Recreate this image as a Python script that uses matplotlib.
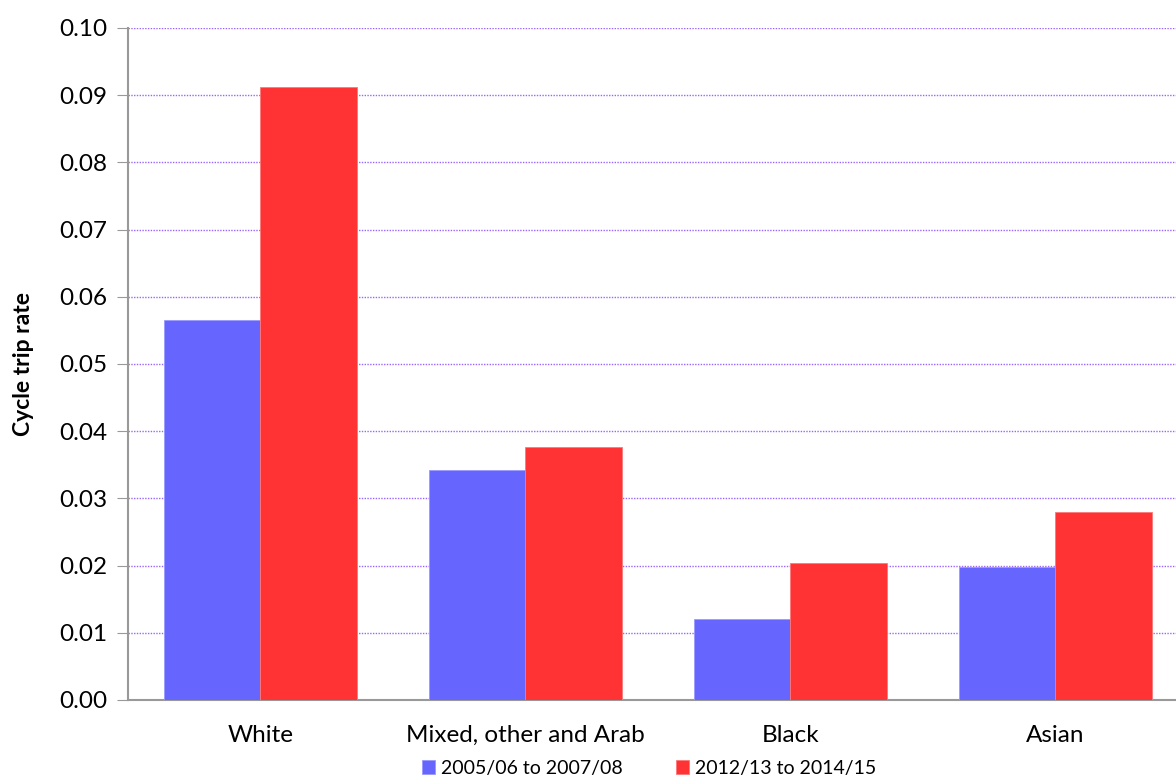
import numpy as np
import matplotlib.pyplot as plt

# values
groups = ['White', 'Mixed, other and Arab', 'Black', 'Asian']
period_a = [0.0565, 0.0342, 0.0121, 0.0198]
period_b = [0.0912, 0.0376, 0.0204, 0.0280]
series_names = ['2005/06 to 2007/08', '2012/13 to 2014/15']
yticks = [0.00, 0.01, 0.02, 0.03, 0.04, 0.05, 0.06, 0.07, 0.08, 0.09, 0.10]

plt.rcParams['font.family'] = ['Lato', 'DejaVu Sans']

fig = plt.figure(figsize=(11.76, 7.79), dpi=100)
ax = fig.add_axes([128 / 1176, 1 - 700 / 779, (1176 - 128) / 1176, 672 / 779])

x = np.arange(len(groups))
w = 0.365
ax.bar(x - w / 2, period_a, w, color='#6666ff', edgecolor='#9999ff', linewidth=0.6,
       label=series_names[0], zorder=3)
ax.bar(x + w / 2, period_b, w, color='#ff3333', edgecolor='#ff7777', linewidth=0.6,
       label=series_names[1], zorder=3)

ax.set_xlim(-0.5, 3.455)
ax.set_ylim(0, 0.10)
ax.set_yticks(yticks)
ax.set_yticklabels([f'{v:.2f}' for v in yticks], fontsize=17.5)
ax.set_xticks(x)
ax.set_xticklabels(groups, fontsize=17.5)
ax.tick_params(axis='x', length=0, pad=18)
ax.tick_params(axis='y', length=8, color='#999999', pad=7)

ax.grid(axis='y', color='#9966ff', linestyle=(0, (1, 1)), linewidth=1, zorder=0)
for s in ['top', 'right']:
    ax.spines[s].set_visible(False)
for s in ['left', 'bottom']:
    ax.spines[s].set_color('#999999')
    ax.spines[s].set_linewidth(1.5)

ax.set_ylabel('Cycle trip rate', fontsize=16.5, fontweight='bold', labelpad=18)

fig.legend(loc='lower center', bbox_to_anchor=(649 / 1176, -0.02), ncol=2, frameon=False,
           fontsize=14, handlelength=0.7, handleheight=0.7, handletextpad=0.3,
           columnspacing=2.7)

fig.savefig('out.png', dpi=100)
